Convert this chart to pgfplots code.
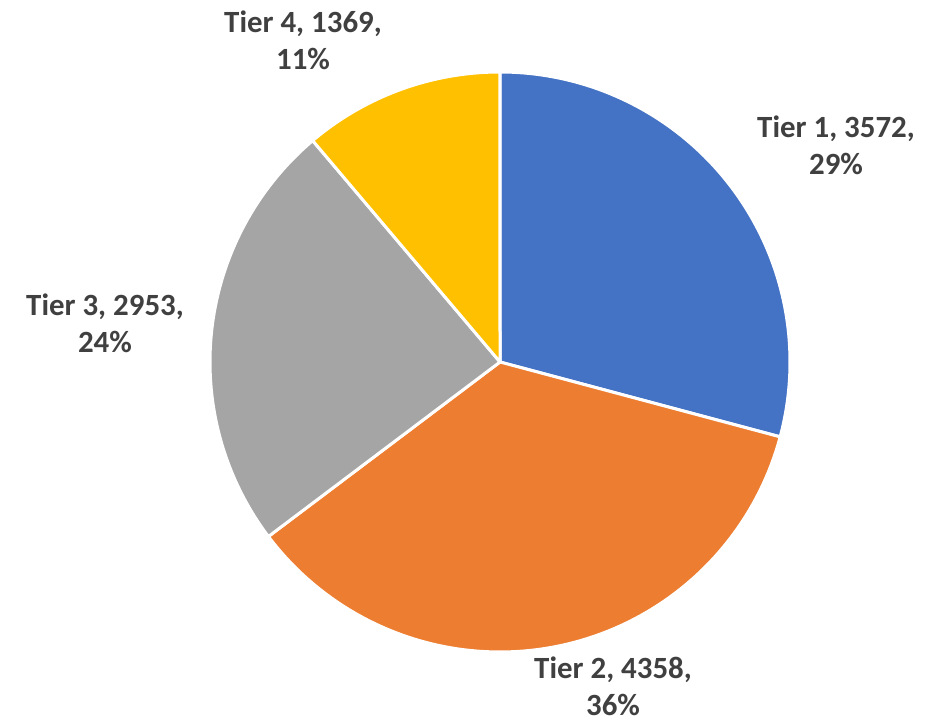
\documentclass[border=0pt]{standalone}
\usepackage{pgfplots}
\pgfplotsset{compat=1.18}
\usepackage{fontspec}
\setmainfont{Carlito}
\definecolor{tone1}{HTML}{4472C4}
\definecolor{tone2}{HTML}{ED7D31}
\definecolor{tone3}{HTML}{A5A5A5}
\definecolor{tone4}{HTML}{FFC000}
\definecolor{txt}{HTML}{404040}
\tikzset{lbl/.style={font=\fontsize{15.5}{18.5}\selectfont\bfseries,text=txt,align=center,inner sep=0pt}}
\begin{document}
\begin{tikzpicture}
\def\vA{3572}\def\vB{4358}\def\vC{2953}\def\vD{1369}
\pgfmathsetmacro\tot{\vA+\vB+\vC+\vD}
\pgfmathsetmacro\aA{90}
\pgfmathsetmacro\aB{\aA-360*(\vA/\tot)}
\pgfmathsetmacro\aC{\aB-360*(\vB/\tot)}
\pgfmathsetmacro\aD{\aC-360*(\vC/\tot)}
\pgfmathsetmacro\aE{\aD-360*(\vD/\tot)}
\begin{axis}[width=473.5bp,height=360.5bp,scale only axis,
  xmin=0,xmax=947,ymin=0,ymax=721,hide axis,clip=false]
\addplot[draw=none] coordinates {(0,0) (947,721)};
\addplot[fill=tone1,draw=white,line width=1.5bp,line join=round,domain=\aB:\aA,samples=90,variable=\t]
  ({500+290*cos(\t)},{359+290*sin(\t)}) -- (500,359) -- cycle;
\addplot[fill=tone2,draw=white,line width=1.5bp,line join=round,domain=\aC:\aB,samples=90,variable=\t]
  ({500+290*cos(\t)},{359+290*sin(\t)}) -- (500,359) -- cycle;
\addplot[fill=tone3,draw=white,line width=1.5bp,line join=round,domain=\aD:\aC,samples=90,variable=\t]
  ({500+290*cos(\t)},{359+290*sin(\t)}) -- (500,359) -- cycle;
\addplot[fill=tone4,draw=white,line width=1.5bp,line join=round,domain=\aE:\aD,samples=90,variable=\t]
  ({500+290*cos(\t)},{359+290*sin(\t)}) -- (500,359) -- cycle;
\node[lbl] at (836,576) {Tier 1, 3572,\\29\%};
\node[lbl] at (613,34.5) {Tier 2, 4358,\\36\%};
\node[lbl] at (105,397.5) {Tier 3, 2953,\\24\%};
\node[lbl] at (303,681) {Tier 4, 1369,\\11\%};
\end{axis}
\end{tikzpicture}
\end{document}
